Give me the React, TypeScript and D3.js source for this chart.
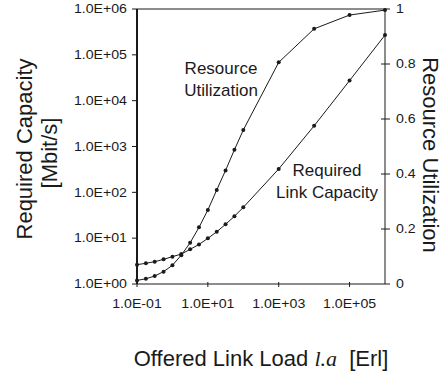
import React from "react";
import * as d3 from "d3";

const loads = [0.1, 0.178, 0.316, 0.562, 1, 1.78, 3.16, 5.62, 10, 17.8, 31.6, 56.2, 100, 1000, 10000, 100000, 1000000];
const capacity = [2.64, 2.83, 3.07, 3.45, 3.95, 4.5, 5.7, 7.3, 9.9, 13.8, 20, 30, 47, 323, 2830, 27400, 270000];
const utilization = [0.013, 0.019, 0.029, 0.045, 0.068, 0.105, 0.15, 0.206, 0.269, 0.342, 0.413, 0.488, 0.56, 0.806, 0.928, 0.978, 0.996];

const xTickValues = [0.1, 10, 1000, 100000];
const xTickLabels = ["1.0E-01", "1.0E+01", "1.0E+03", "1.0E+05"];
const yLeftTickValues = [1, 10, 100, 1000, 10000, 100000, 1000000];
const yLeftTickLabels = ["1.0E+00", "1.0E+01", "1.0E+02", "1.0E+03", "1.0E+04", "1.0E+05", "1.0E+06"];
const yRightTickValues = [0, 0.2, 0.4, 0.6, 0.8, 1];
const yRightTickLabels = ["0", "0.2", "0.4", "0.6", "0.8", "1"];

const W = 445;
const H = 375;
const L = 137, R = 385, T = 9, B = 284;
const ink = "#1a1a1a";
const font = "'Liberation Sans', Arial, sans-serif";
const SX = 1.18;

export default function App() {
  const x = d3.scaleLog().domain([0.1, 1e6]).range([L, R]);
  const yL = d3.scaleLog().domain([1, 1e6]).range([B, T]);
  const yR = d3.scaleLinear().domain([0, 1]).range([B, T]);

  const capLine = d3.line<number>().x((_, i) => x(loads[i])).y((d) => yL(d))(capacity) || "";
  const utilLine = d3.line<number>().x((_, i) => x(loads[i])).y((d) => yR(d))(utilization) || "";

  return (
    <div style={{ position: "fixed", left: 0, top: 0 }}>
      <svg width={W} height={H} style={{ display: "block", background: "#fff" }} fontFamily={font}>
        {/* frame */}
        <line x1={L} x2={R} y1={T} y2={T} stroke={ink} strokeWidth={1} />
        <line x1={L} x2={R} y1={B} y2={B} stroke={ink} strokeWidth={1} />
        <line x1={R} x2={R} y1={T} y2={B} stroke={ink} strokeWidth={1} />
        <line x1={L} x2={L} y1={T} y2={B} stroke={ink} strokeWidth={2} />

        {/* left ticks */}
        {yLeftTickValues.map((v, i) => (
          <g key={"yl" + i}>
            <line x1={L - 5} x2={L} y1={yL(v)} y2={yL(v)} stroke={ink} />
            <text
              transform={`translate(${L - 10},${yL(v)}) scale(${SX},1)`}
              textAnchor="end"
              dy="0.36em"
              fontSize={12}
              fill={ink}
            >
              {yLeftTickLabels[i]}
            </text>
          </g>
        ))}

        {/* x ticks */}
        {xTickValues.map((v, i) => (
          <g key={"x" + i}>
            <line x1={x(v)} x2={x(v)} y1={B - 2} y2={B + 3} stroke={ink} />
            <text
              transform={`translate(${x(v)},${B + 24}) scale(${SX},1)`}
              textAnchor="middle"
              fontSize={12}
              fill={ink}
            >
              {xTickLabels[i]}
            </text>
          </g>
        ))}

        {/* right ticks */}
        {yRightTickValues.map((v, i) => (
          <g key={"yr" + i}>
            <line x1={v === 0 || v === 1 ? R : R - 4} x2={R + 5} y1={yR(v)} y2={yR(v)} stroke={ink} />
            <text
              transform={`translate(${R + 11},${yR(v)}) scale(${SX},1)`}
              textAnchor="start"
              dy="0.36em"
              fontSize={12}
              fill={ink}
            >
              {yRightTickLabels[i]}
            </text>
          </g>
        ))}

        {/* series */}
        <path d={capLine} fill="none" stroke={ink} strokeWidth={1} />
        <path d={utilLine} fill="none" stroke={ink} strokeWidth={1} />
        {capacity.map((d, i) => (
          <circle key={"c" + i} cx={x(loads[i])} cy={yL(d)} r={2} fill={ink} />
        ))}
        {utilization.map((d, i) => (
          <circle key={"u" + i} cx={x(loads[i])} cy={yR(d)} r={2} fill={ink} />
        ))}

        {/* annotations */}
        <text x={221} y={74} textAnchor="middle" fontSize={17} fill={ink}>Resource</text>
        <text x={221} y={96} textAnchor="middle" fontSize={17} fill={ink}>Utilization</text>
        <text x={327} y={176} textAnchor="middle" fontSize={17} fill={ink}>Required</text>
        <text x={327} y={198} textAnchor="middle" fontSize={17} fill={ink}>Link Capacity</text>

        {/* axis titles */}
        <text transform={`translate(32,149) rotate(-90)`} textAnchor="middle" fontSize={22} fill={ink}>
          Required Capacity
        </text>
        <text transform={`translate(57,153) rotate(-90)`} textAnchor="middle" fontSize={22} fill={ink}>
          [Mbit/s]
        </text>
        <text transform={`translate(423,155) rotate(90)`} textAnchor="middle" fontSize={22} fill={ink}>
          Resource Utilization
        </text>
        <text x={261} y={366} textAnchor="middle" fontSize={22} fill={ink}>
          Offered Link Load{" "}
          <tspan fontFamily="'Liberation Serif', 'Times New Roman', serif" fontStyle="italic">l.a</tspan>
          {"  "}
          <tspan dx={6}>[Erl]</tspan>
        </text>
      </svg>
    </div>
  );
}
